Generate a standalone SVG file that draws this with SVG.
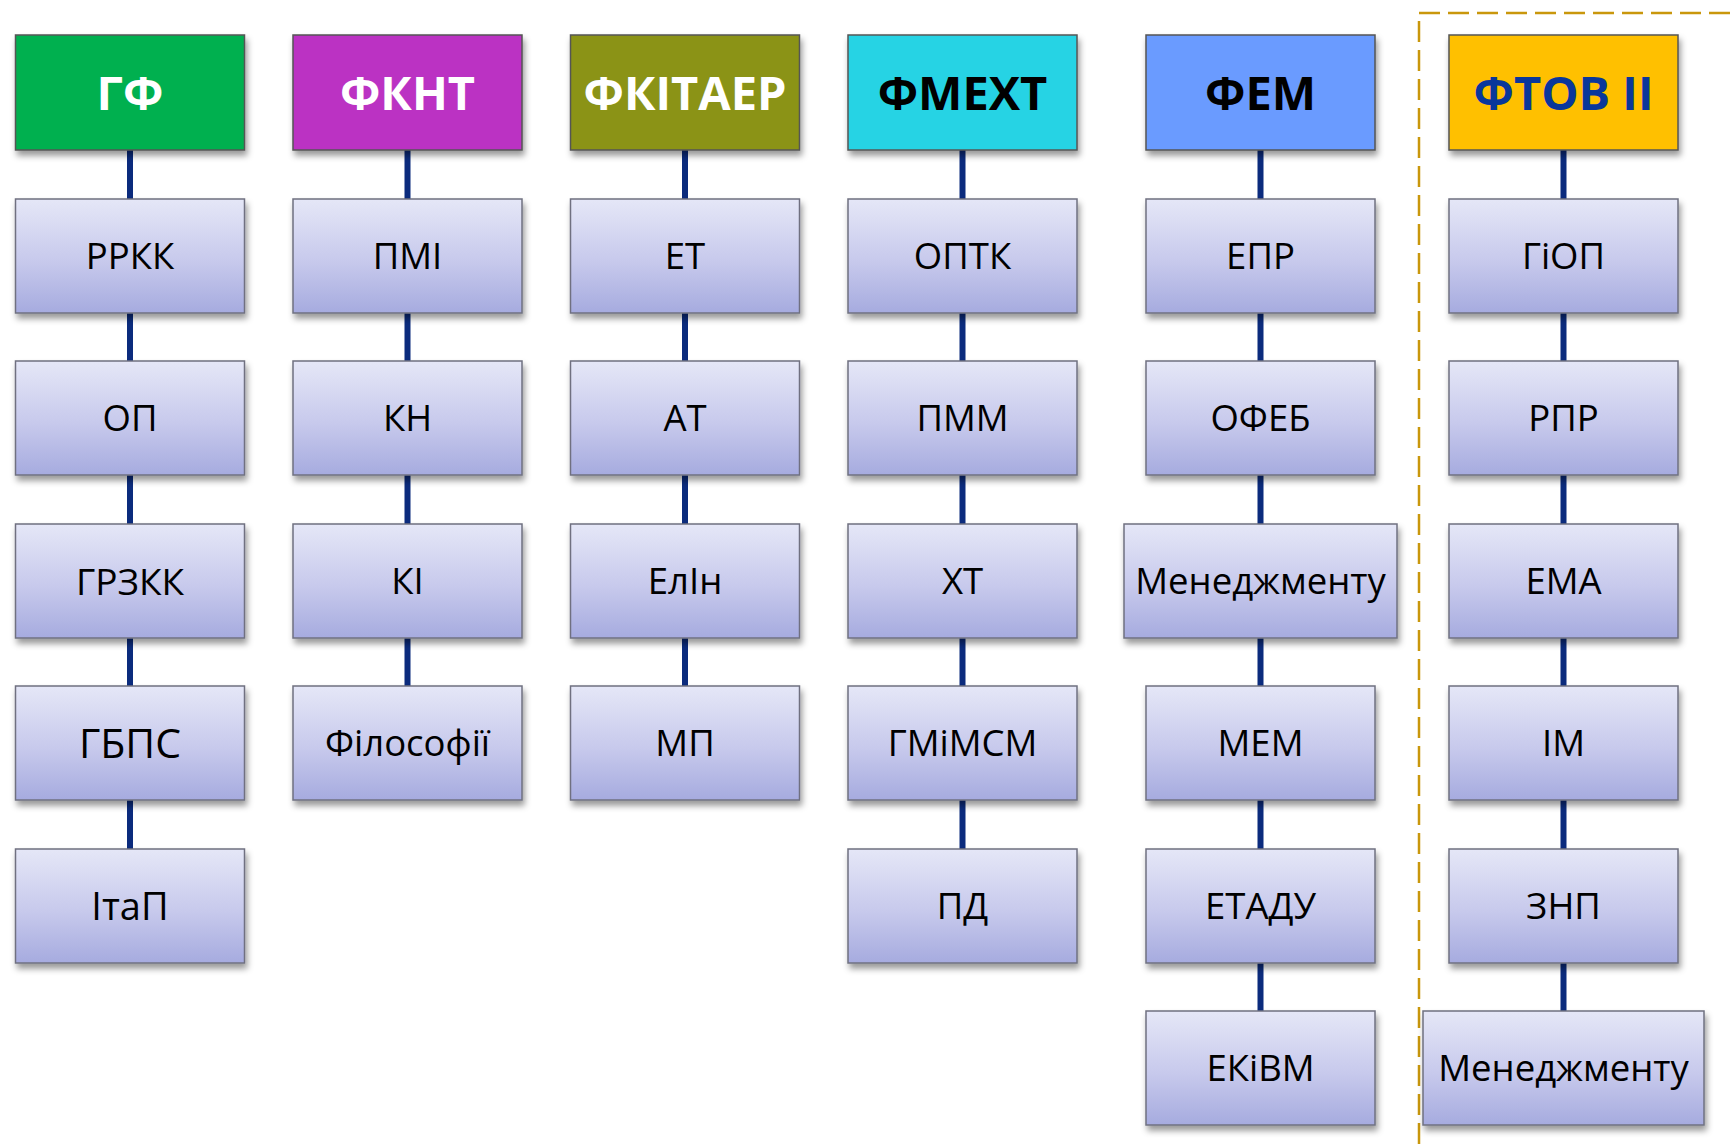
<svg xmlns="http://www.w3.org/2000/svg" width="1733" height="1144" viewBox="0 0 1733 1144">
<defs>
<linearGradient id="g" x1="0" y1="0" x2="0" y2="1">
<stop offset="0" stop-color="#e5e7f7"/>
<stop offset="0.55" stop-color="#c7c9ec"/>
<stop offset="1" stop-color="#a6abdf"/>
</linearGradient>
<filter id="sh" x="-10%" y="-10%" width="125%" height="135%">
<feDropShadow dx="2" dy="5" stdDeviation="3" flood-color="#000" flood-opacity="0.4"/>
</filter>
<style>
.box{fill:url(#g);stroke:#6f7080;stroke-width:1.5;filter:url(#sh)}
.hd{stroke:#555;stroke-width:1.5;filter:url(#sh)}
.t{font-family:"Open Sans","Noto Sans","DejaVu Sans",sans-serif;font-size:36.5px;text-anchor:middle;fill:#000}
.h{font-family:"Open Sans","Noto Sans","DejaVu Sans",sans-serif;font-size:47px;font-weight:bold;text-anchor:middle}
.c{stroke:#0b2b7d;stroke-width:6;fill:none}
</style>
</defs>
<rect width="1733" height="1144" fill="#fff"/>
<path d="M1419 1144 V13 H1733" fill="none" stroke="#c9970c" stroke-width="2.5" stroke-dasharray="21 8"/>
<g id="connectors">
<path class="c" d="M130 150V199M130 313V361M130 475V524M130 638V686M130 800V849"/>
<path class="c" d="M407.5 150V199M407.5 313V361M407.5 475V524M407.5 638V686"/>
<path class="c" d="M685 150V199M685 313V361M685 475V524M685 638V686"/>
<path class="c" d="M962.5 150V199M962.5 313V361M962.5 475V524M962.5 638V686M962.5 800V849"/>
<path class="c" d="M1260.5 150V199M1260.5 313V361M1260.5 475V524M1260.5 638V686M1260.5 800V849M1260.5 963V1011"/>
<path class="c" d="M1563.5 150V199M1563.5 313V361M1563.5 475V524M1563.5 638V686M1563.5 800V849M1563.5 963V1011"/>
</g>
<g id="h-gf"><rect class="hd" x="15.5" y="35" width="229" height="115" fill="#00b050"/><text class="h" x="130" y="109.5" fill="#fff">ГФ</text></g>
<g id="h-fknt"><rect class="hd" x="293" y="35" width="229" height="115" fill="#bb33c3"/><text class="h" x="407.5" y="109.5" fill="#fff">ФКНТ</text></g>
<g id="h-fkitaer"><rect class="hd" x="570.5" y="35" width="229" height="115" fill="#8b9315"/><text class="h" x="685" y="109.5" fill="#fff">ФКІТАЕР</text></g>
<g id="h-fmext"><rect class="hd" x="848" y="35" width="229" height="115" fill="#27d3e4"/><text class="h" x="962.5" y="109.5" fill="#000">ФМЕХТ</text></g>
<g id="h-fem"><rect class="hd" x="1146" y="35" width="229" height="115" fill="#6a9bff"/><text class="h" x="1260.5" y="109.5" fill="#000">ФЕМ</text></g>
<g id="h-ftov"><rect class="hd" x="1449" y="35" width="229" height="115" fill="#ffc000"/><text class="h" x="1563.5" y="109.5" fill="#0a379b">ФТОВ II</text></g>

<g id="n-rrkk"><rect class="box" x="15.5" y="199" width="229" height="114"/><text class="t" x="130" y="269">РРКК</text></g>
<g id="n-op"><rect class="box" x="15.5" y="361" width="229" height="114"/><text class="t" x="130" y="431">ОП</text></g>
<g id="n-grzkk"><rect class="box" x="15.5" y="524" width="229" height="114"/><text class="t" x="130" y="594.5" style="font-size:37px">ГРЗКК</text></g>
<g id="n-gbps"><rect class="box" x="15.5" y="686" width="229" height="114"/><text class="t" x="130" y="758" style="font-size:41px">ГБПС</text></g>
<g id="n-itap"><rect class="box" x="15.5" y="849" width="229" height="114"/><text class="t" x="130" y="920" style="font-size:38px">ІтаП</text></g>

<g id="n-pmi"><rect class="box" x="293" y="199" width="229" height="114"/><text class="t" x="407.5" y="269">ПМІ</text></g>
<g id="n-kn"><rect class="box" x="293" y="361" width="229" height="114"/><text class="t" x="407.5" y="431">КН</text></g>
<g id="n-ki"><rect class="box" x="293" y="524" width="229" height="114"/><text class="t" x="407.5" y="594">КІ</text></g>
<g id="n-filosofii"><rect class="box" x="293" y="686" width="229" height="114"/><text class="t" x="407.5" y="756">Філософії</text></g>

<g id="n-et"><rect class="box" x="570.5" y="199" width="229" height="114"/><text class="t" x="685" y="269">ЕТ</text></g>
<g id="n-at"><rect class="box" x="570.5" y="361" width="229" height="114"/><text class="t" x="685" y="431">АТ</text></g>
<g id="n-elin"><rect class="box" x="570.5" y="524" width="229" height="114"/><text class="t" x="685" y="594">ЕлІн</text></g>
<g id="n-mp"><rect class="box" x="570.5" y="686" width="229" height="114"/><text class="t" x="685" y="756">МП</text></g>

<g id="n-optk"><rect class="box" x="848" y="199" width="229" height="114"/><text class="t" x="962.5" y="269">ОПТК</text></g>
<g id="n-pmm"><rect class="box" x="848" y="361" width="229" height="114"/><text class="t" x="962.5" y="431">ПММ</text></g>
<g id="n-xt"><rect class="box" x="848" y="524" width="229" height="114"/><text class="t" x="962.5" y="594">ХТ</text></g>
<g id="n-gmimsm"><rect class="box" x="848" y="686" width="229" height="114"/><text class="t" x="962.5" y="756">ГМіМСМ</text></g>
<g id="n-pd"><rect class="box" x="848" y="849" width="229" height="114"/><text class="t" x="962.5" y="919">ПД</text></g>

<g id="n-epr"><rect class="box" x="1146" y="199" width="229" height="114"/><text class="t" x="1260.5" y="269">ЕПР</text></g>
<g id="n-ofeb"><rect class="box" x="1146" y="361" width="229" height="114"/><text class="t" x="1260.5" y="431">ОФЕБ</text></g>
<g id="n-men1"><rect class="box" x="1124" y="524" width="273" height="114"/><text class="t" x="1260.5" y="594">Менеджменту</text></g>
<g id="n-mem"><rect class="box" x="1146" y="686" width="229" height="114"/><text class="t" x="1260.5" y="756">МЕМ</text></g>
<g id="n-etadu"><rect class="box" x="1146" y="849" width="229" height="114"/><text class="t" x="1260.5" y="919">ЕТАДУ</text></g>
<g id="n-ekivm"><rect class="box" x="1146" y="1011" width="229" height="114"/><text class="t" x="1260.5" y="1081">ЕКіВМ</text></g>

<g id="n-giop"><rect class="box" x="1449" y="199" width="229" height="114"/><text class="t" x="1563.5" y="269">ГіОП</text></g>
<g id="n-rpr"><rect class="box" x="1449" y="361" width="229" height="114"/><text class="t" x="1563.5" y="431">РПР</text></g>
<g id="n-ema"><rect class="box" x="1449" y="524" width="229" height="114"/><text class="t" x="1563.5" y="594">ЕМА</text></g>
<g id="n-im"><rect class="box" x="1449" y="686" width="229" height="114"/><text class="t" x="1563.5" y="756">ІМ</text></g>
<g id="n-znp"><rect class="box" x="1449" y="849" width="229" height="114"/><text class="t" x="1563.5" y="919">ЗНП</text></g>
<g id="n-men2"><rect class="box" x="1423" y="1011" width="281" height="114"/><text class="t" x="1563.5" y="1081">Менеджменту</text></g>
</svg>
